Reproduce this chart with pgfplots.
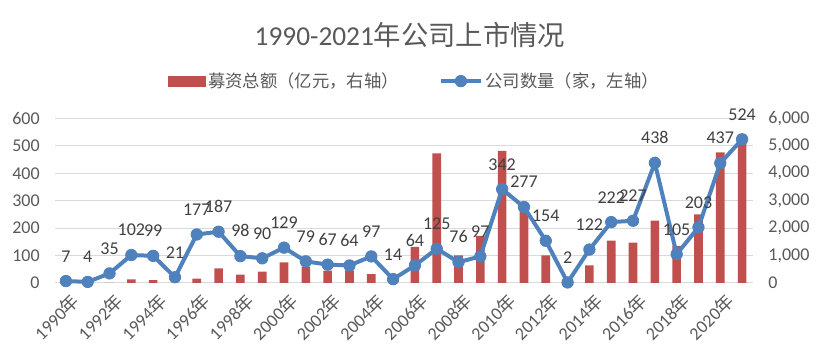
\documentclass[border=0pt]{standalone}
\usepackage{pgfplots}
\pgfplotsset{compat=1.18}
\pgfplotsset{/pgf/number format/assume math mode=true}
\usepackage{fontspec}
\setmainfont{Carlito}
\newfontfamily\cjk{Noto Sans CJK SC}
\definecolor{barred}{HTML}{C0504D}
\definecolor{lineblue}{HTML}{4F81BD}
\definecolor{txt}{HTML}{595959}
\definecolor{lbl}{HTML}{404040}
\definecolor{gridc}{HTML}{D9D9D9}
\newcommand{\nian}{{\cjk 年}}
\begin{document}
\begin{tikzpicture}
\useasboundingbox (-41.25pt,-57pt) rectangle (576.75pt,212.25pt);
% bars: right axis
\begin{axis}[
  at={(0,0)}, anchor=south west,
  scale only axis, width=523.5pt, height=123.4pt,
  xmin=-0.5, xmax=31.5, ymin=0, ymax=6000,
  axis y line*=right, axis x line*=bottom,
  axis line style={draw=none},
  ytick={0,1000,...,6000},
  ymajorgrids, grid style={gridc, line width=0.75pt},
  major tick length=0pt,
  xtick=\empty,
  ybar, bar width=6.5pt,
  scaled y ticks=false,
  yticklabel style={font=\fontsize{13.5}{16}\selectfont, color=txt, xshift=8pt,
    /pgf/number format/assume math mode=true, /pgf/number format/1000 sep={,}},
]
\addplot[fill=barred, draw=none] coordinates {
(0,0) (1,0) (2,0) (3,135) (4,109) (5,0) (6,157) (7,536) (8,303) (9,412)
(10,755) (11,600) (12,449) (13,460) (14,328) (15,58) (16,1313) (17,4730) (18,1010) (19,1714)
(20,4815) (21,2700) (22,1010) (23,0) (24,646) (25,1543) (26,1470) (27,2273) (28,1350) (29,2505)
(30,4767) (31,5410)};
\end{axis}
% line: left axis
\begin{axis}[
  at={(0,0)}, anchor=south west,
  scale only axis, width=523.5pt, height=123.4pt,
  xmin=-0.5, xmax=31.5, ymin=0, ymax=600,
  axis y line*=left, axis x line*=bottom,
  axis line style={draw=none},
  ytick={0,100,...,600},
  major tick length=0pt,
  xtick={0,2,...,30},
  xticklabels={1990\nian,1992\nian,1994\nian,1996\nian,1998\nian,2000\nian,2002\nian,2004\nian,2006\nian,2008\nian,2010\nian,2012\nian,2014\nian,2016\nian,2018\nian,2020\nian},
  xticklabel style={font=\fontsize{13.5}{16}\selectfont, color=txt, rotate=45, anchor=east, yshift=-13pt, xshift=1pt},
  yticklabel style={font=\fontsize{13.5}{16}\selectfont, color=txt, xshift=-8pt,
    /pgf/number format/assume math mode=true},
  clip=false,
  title={\cjk\fontsize{20.5}{24}\selectfont{\fontspec{Carlito}1990-2021}年公司上市情况},
  title style={at={(0.5,1)}, anchor=center, yshift=56.5pt, xshift=4.5pt, color=txt},
  legend columns=2,
  legend style={at={(0.5,1)}, anchor=center, xshift=8pt, yshift=28pt, draw=none, fill=none,
    font=\cjk\fontsize{13}{15}\selectfont, text=txt,
    /tikz/every even column/.append style={column sep=28pt}},
]
\addlegendimage{legend image code/.code={\fill[barred] (0pt,-3.5pt) rectangle (28pt,3.5pt);}}
\addlegendentry{募资总额（亿元，右轴）}
\addplot[lineblue, line width=3pt, mark=*, mark size=4.3pt,
  mark options={fill=lineblue, draw=lineblue, line width=0.6pt},
  nodes near coords,
  nodes near coords style={font=\fontsize{13.5}{15}\selectfont, color=lbl, anchor=south, inner sep=0pt, yshift=14pt,
    /pgf/number format/assume math mode=true},
  legend image code/.code={\draw[lineblue, line width=3pt, mark=*, mark size=4.3pt, mark options={fill=lineblue, line width=0.6pt}, mark repeat=2, mark phase=2] plot coordinates {(0pt,0pt) (15pt,0pt) (30pt,0pt)};},
] coordinates {
(0,7) (1,4) (2,35) (3,102) (4,99) (5,21) (6,177) (7,187) (8,98) (9,90)
(10,129) (11,79) (12,67) (13,64) (14,97) (15,14) (16,64) (17,125) (18,76) (19,97)
(20,342) (21,277) (22,154) (23,2) (24,122) (25,222) (26,227) (27,438) (28,105) (29,203)
(30,437) (31,524)};
\addlegendentry{公司数量（家，左轴）}
\end{axis}
\end{tikzpicture}
\end{document}
